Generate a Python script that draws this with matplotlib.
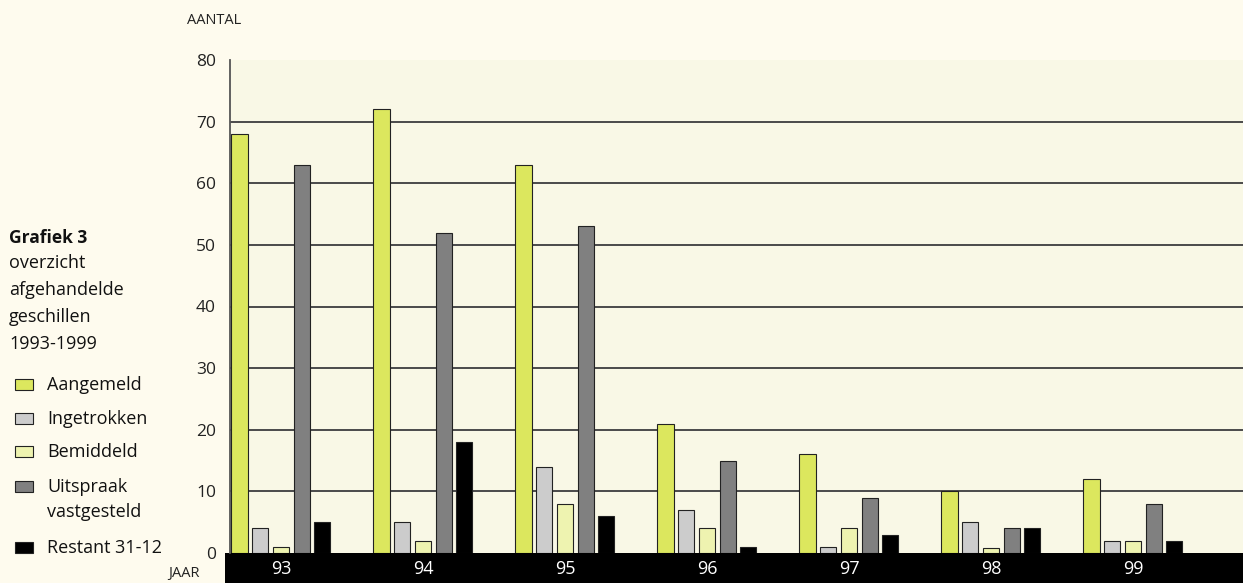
import matplotlib
matplotlib.use("Agg")
import matplotlib.pyplot as plt
from matplotlib.patches import Rectangle
import numpy as np

years = ["93", "94", "95", "96", "97", "98", "99"]
aangemeld = [68, 72, 63, 21, 16, 10, 12]
ingetrokken = [4, 5, 14, 7, 1, 5, 2]
bemiddeld = [1, 2, 8, 4, 4, 0.8, 2]
uitspraak = [63, 52, 53, 15, 9, 4, 8]
restant = [5, 18, 6, 1, 3, 4, 2]

series_names = ["Aangemeld", "Ingetrokken", "Bemiddeld", "Uitspraak\nvastgesteld", "Restant 31-12"]
series_values = [aangemeld, ingetrokken, bemiddeld, uitspraak, restant]
colors = ["#dce75e", "#cccccc", "#eef3b0", "#808080", "#000000"]

yticks = [0, 10, 20, 30, 40, 50, 60, 70, 80]

W, H = 1243, 583
plt.rcParams["font.family"] = ["Open Sans", "DejaVu Sans"]
fig = plt.figure(figsize=(W / 100, H / 100), dpi=100)
fig.patch.set_facecolor("#fefbee")

# black band under the axis
band = Rectangle((225 / W, 0), (W - 225) / W, 30 / H,
                 transform=fig.transFigure, facecolor="black",
                 edgecolor="none", zorder=0)
fig.patches.append(band)

ax = fig.add_axes([230 / W, 30 / H, 1013 / W, 493 / H])
ax.set_zorder(2)
ax.set_facecolor("#f9f8e6")

x = np.arange(len(years))
step = 0.146
width = 0.113
for i, (vals, col) in enumerate(zip(series_values, colors)):
    ax.bar(x + (i - 2) * step, vals, width=width, color=col,
           edgecolor="#222222", linewidth=0.8, zorder=3)

ax.set_xlim(-0.359, 6.775)
ax.set_ylim(0, 80)
ax.set_yticks(yticks)
ax.set_yticklabels([str(v) for v in yticks], fontsize=12.5, color="#222222")
for v in yticks[1:-1]:
    ax.axhline(v, color="#4a4a4a", linewidth=1.4, zorder=1)

for s in ["top", "right", "bottom"]:
    ax.spines[s].set_visible(False)
ax.spines["left"].set_color("#555555")
ax.spines["left"].set_linewidth(1.3)
ax.tick_params(axis="y", length=0, pad=10)
ax.set_xticks(x)
ax.set_xticklabels(years, fontsize=13, color="white")
ax.tick_params(axis="x", length=0, pad=5)

fig.text(187 / W, 1 - 20 / H, "AANTAL", fontsize=10.5, color="#222222",
         va="center", ha="left")
fig.text(168 / W, 1 - 573 / H, "JAAR", fontsize=10.5, color="#222222",
         va="center", ha="left")

# left caption
fig.text(9 / W, 1 - 238 / H, "Grafiek 3", fontsize=12.5, fontweight="bold",
         color="#111111", va="center", ha="left")
for j, line in enumerate(["overzicht", "afgehandelde", "geschillen", "1993-1999"]):
    fig.text(9 / W, 1 - (263 + j * 27) / H, line, fontsize=13,
             color="#111111", va="center", ha="left")

# legend
legend_y = [385, 419, 452, 487, 548]
for name, col, yy in zip(series_names, colors, legend_y):
    fig.patches.append(Rectangle((15 / W, 1 - (yy + 5) / H), 18 / W, 11 / H,
                                 transform=fig.transFigure, facecolor=col,
                                 edgecolor="#222222", linewidth=0.8))
    lines = name.split("\n")
    for k, ln in enumerate(lines):
        fig.text(47 / W, 1 - (yy + k * 25) / H, ln, fontsize=13,
                 color="#111111", va="center", ha="left")

fig.savefig("out.png", dpi=100, facecolor=fig.get_facecolor())
